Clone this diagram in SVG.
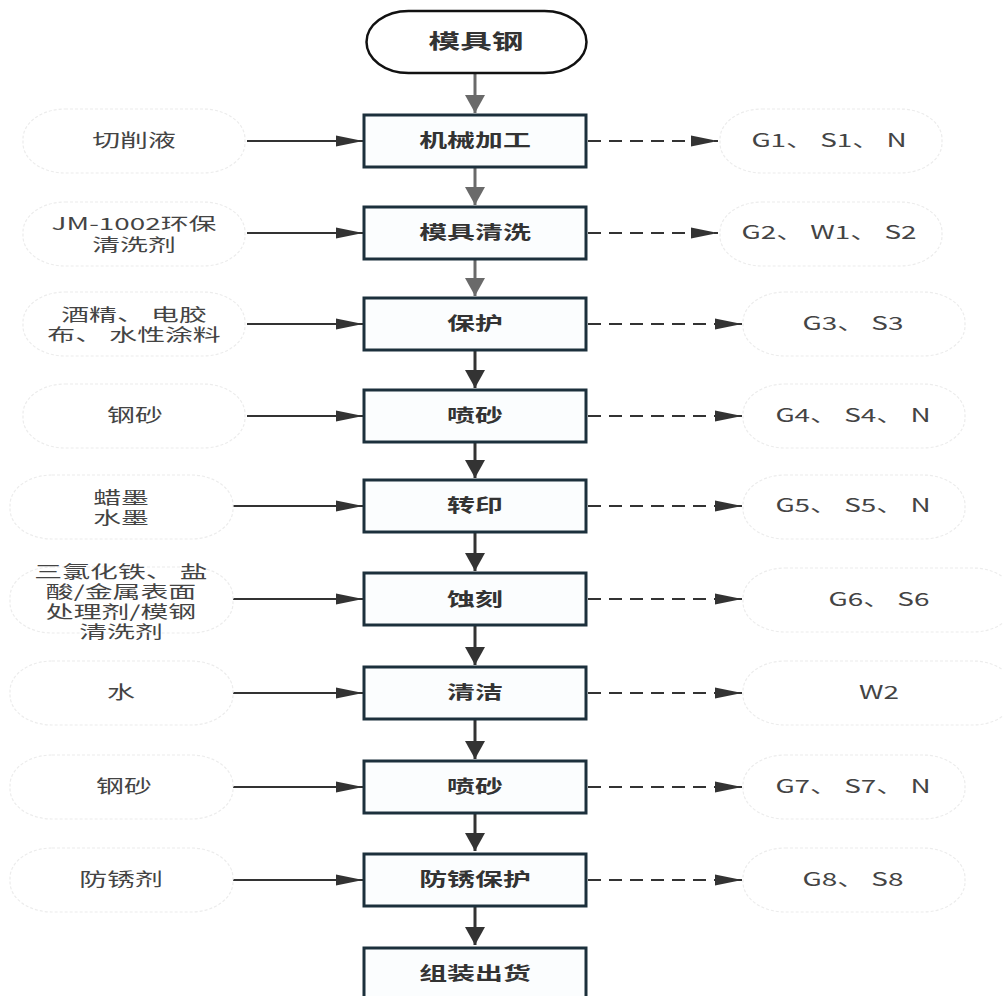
<svg xmlns="http://www.w3.org/2000/svg" width="1003" height="996" viewBox="0 0 1003 996">
<style>
.pt{font-family:"Noto Sans CJK SC","Liberation Sans",sans-serif;font-size:18px;font-weight:bold;fill:#333;text-anchor:middle}
.tt{font-family:"Noto Sans CJK SC","Liberation Sans",sans-serif;font-size:20px;font-weight:bold;fill:#333;text-anchor:middle}
.st{font-family:"Noto Sans CJK SC","Liberation Sans",sans-serif;font-size:18px;fill:#444;text-anchor:middle}
.st2{font-family:"Noto Sans CJK SC","Liberation Sans",sans-serif;font-size:17px;fill:#444;text-anchor:middle}
.box{fill:#fbfdfe;stroke:#1c303c;stroke-width:3}
.side{fill:#fff;stroke:#ececec;stroke-width:1.2;stroke-dasharray:3 2}
.vg{stroke:#6a6a6a;stroke-width:3;fill:none}
.vd{stroke:#333;stroke-width:3;fill:none}
.hin{stroke:#333;stroke-width:2;fill:none}
.hout{stroke:#333;stroke-width:2;fill:none;stroke-dasharray:13 8}
</style>
<defs>
<marker id="vhg" markerUnits="userSpaceOnUse" markerWidth="18" markerHeight="20" refX="18" refY="10" orient="auto"><path d="M0,0 L18,10 L0,20 z" fill="#6a6a6a"/></marker>
<marker id="vhd" markerUnits="userSpaceOnUse" markerWidth="18" markerHeight="20" refX="18" refY="10" orient="auto"><path d="M0,0 L18,10 L0,20 z" fill="#333"/></marker>
<marker id="hh" markerUnits="userSpaceOnUse" markerWidth="27" markerHeight="12" refX="27" refY="6" orient="auto"><path d="M0,0.5 L27,6 L0,11.5 z" fill="#333"/></marker>
</defs>
<rect width="1003" height="996" fill="#fff"/>

<g id="connectors">
<path class="vg" d="M475,73 V113" marker-end="url(#vhg)"/>
<path class="vg" d="M475,168 V205" marker-end="url(#vhg)"/>
<path class="vg" d="M475,260 V296" marker-end="url(#vhg)"/>
<path class="vd" d="M475,351 V388" marker-end="url(#vhd)"/>
<path class="vd" d="M475,443 V478" marker-end="url(#vhd)"/>
<path class="vd" d="M475,533 V571" marker-end="url(#vhd)"/>
<path class="vd" d="M475,626 V665" marker-end="url(#vhd)"/>
<path class="vd" d="M475,720 V759" marker-end="url(#vhd)"/>
<path class="vd" d="M475,814 V851" marker-end="url(#vhd)"/>
<path class="vd" d="M475,907 V945" marker-end="url(#vhd)"/>

<path class="hin" d="M247,141 H363" marker-end="url(#hh)"/>
<path class="hin" d="M247,233 H363" marker-end="url(#hh)"/>
<path class="hin" d="M247,324 H363" marker-end="url(#hh)"/>
<path class="hin" d="M247,416 H363" marker-end="url(#hh)"/>
<path class="hin" d="M233,506 H363" marker-end="url(#hh)"/>
<path class="hin" d="M233,599 H363" marker-end="url(#hh)"/>
<path class="hin" d="M233,693 H363" marker-end="url(#hh)"/>
<path class="hin" d="M233,787 H363" marker-end="url(#hh)"/>
<path class="hin" d="M233,880 H363" marker-end="url(#hh)"/>

<path class="hout" d="M588,141 H718" marker-end="url(#hh)"/>
<path class="hout" d="M588,233 H718" marker-end="url(#hh)"/>
<path class="hout" d="M588,324 H742" marker-end="url(#hh)"/>
<path class="hout" d="M588,416 H742" marker-end="url(#hh)"/>
<path class="hout" d="M588,506 H742" marker-end="url(#hh)"/>
<path class="hout" d="M588,599 H742" marker-end="url(#hh)"/>
<path class="hout" d="M588,693 H742" marker-end="url(#hh)"/>
<path class="hout" d="M588,787 H742" marker-end="url(#hh)"/>
<path class="hout" d="M588,880 H742" marker-end="url(#hh)"/>
</g>

<g id="start">
<rect x="366.5" y="11" width="220" height="62" rx="42" ry="31" fill="#fff" stroke="#111" stroke-width="2.5"/>
<g transform="translate(476,0) scale(1.58,1)"><text class="tt" x="0" y="49">模具钢</text></g>
</g>

<g id="p1"><rect class="box" x="364" y="115" width="222" height="52"/><g transform="translate(475,0) scale(1.55,1)"><text class="pt" x="0" y="147.5">机械加工</text></g></g>
<g id="p2"><rect class="box" x="364" y="207" width="222" height="52"/><g transform="translate(475,0) scale(1.55,1)"><text class="pt" x="0" y="239.5">模具清洗</text></g></g>
<g id="p3"><rect class="box" x="364" y="298" width="222" height="52"/><g transform="translate(475,0) scale(1.55,1)"><text class="pt" x="0" y="330.5">保护</text></g></g>
<g id="p4"><rect class="box" x="364" y="390" width="222" height="52"/><g transform="translate(475,0) scale(1.55,1)"><text class="pt" x="0" y="422.5">喷砂</text></g></g>
<g id="p5"><rect class="box" x="364" y="480" width="222" height="52"/><g transform="translate(475,0) scale(1.55,1)"><text class="pt" x="0" y="512.5">转印</text></g></g>
<g id="p6"><rect class="box" x="364" y="573" width="222" height="52"/><g transform="translate(475,0) scale(1.55,1)"><text class="pt" x="0" y="605.5">蚀刻</text></g></g>
<g id="p7"><rect class="box" x="364" y="667" width="222" height="52"/><g transform="translate(475,0) scale(1.55,1)"><text class="pt" x="0" y="699.5">清洁</text></g></g>
<g id="p8"><rect class="box" x="364" y="761" width="222" height="52"/><g transform="translate(475,0) scale(1.55,1)"><text class="pt" x="0" y="793.5">喷砂</text></g></g>
<g id="p9"><rect class="box" x="364" y="854" width="222" height="52"/><g transform="translate(475,0) scale(1.55,1)"><text class="pt" x="0" y="886.5">防锈保护</text></g></g>
<g id="p10"><rect class="box" x="364" y="948" width="222" height="60"/><g transform="translate(475,0) scale(1.55,1)"><text class="pt" x="0" y="980">组装出货</text></g></g>

<g id="in1"><rect class="side" x="23" y="109" width="222" height="64" rx="42" ry="30"/><g transform="translate(134,0) scale(1.55,1)"><text class="st" x="0" y="147.5">切削液</text></g></g>
<g id="in2"><rect class="side" x="23" y="202" width="222" height="64" rx="42" ry="30"/><g transform="translate(134,0) scale(1.64,1)"><text class="st2"><tspan x="0" y="230">JM-1002环保</tspan><tspan x="0" y="251">清洗剂</tspan></text></g></g>
<g id="in3"><rect class="side" x="23" y="292" width="222" height="64" rx="42" ry="30"/><g transform="translate(134,0) scale(1.64,1)"><text class="st2"><tspan x="0" y="321">酒精、 电胶</tspan><tspan x="0" y="341">布、 水性涂料</tspan></text></g></g>
<g id="in4"><rect class="side" x="23" y="384" width="222" height="64" rx="42" ry="30"/><g transform="translate(135,0) scale(1.55,1)"><text class="st" x="0" y="422.5">钢砂</text></g></g>
<g id="in5"><rect class="side" x="10" y="475" width="223" height="64" rx="42" ry="30"/><g transform="translate(121,0) scale(1.64,1)"><text class="st2"><tspan x="0" y="504">蜡墨</tspan><tspan x="0" y="524">水墨</tspan></text></g></g>
<g id="in6"><rect class="side" x="10" y="567" width="223" height="66" rx="42" ry="30"/><g transform="translate(121,0) scale(1.64,1)"><text class="st2"><tspan x="0" y="578">三氯化铁、 盐</tspan><tspan x="0" y="598">酸/金属表面</tspan><tspan x="0" y="618">处理剂/模钢</tspan><tspan x="0" y="638">清洗剂</tspan></text></g></g>
<g id="in7"><rect class="side" x="10" y="661" width="223" height="64" rx="42" ry="30"/><g transform="translate(121,0) scale(1.55,1)"><text class="st" x="0" y="699.5">水</text></g></g>
<g id="in8"><rect class="side" x="10" y="755" width="223" height="64" rx="42" ry="30"/><g transform="translate(124,0) scale(1.55,1)"><text class="st" x="0" y="793.5">钢砂</text></g></g>
<g id="in9"><rect class="side" x="10" y="848" width="223" height="64" rx="42" ry="30"/><g transform="translate(121,0) scale(1.55,1)"><text class="st" x="0" y="886.5">防锈剂</text></g></g>

<g id="out1"><rect class="side" x="720" y="109" width="222" height="64" rx="42" ry="30"/><g transform="translate(829,0) scale(1.55,1)"><text class="st" x="0" y="147.5">G1、 S1、 N</text></g></g>
<g id="out2"><rect class="side" x="720" y="202" width="222" height="64" rx="42" ry="30"/><g transform="translate(829,0) scale(1.55,1)"><text class="st" x="0" y="239.5">G2、 W1、 S2</text></g></g>
<g id="out3"><rect class="side" x="743" y="292" width="222" height="64" rx="42" ry="30"/><g transform="translate(853,0) scale(1.55,1)"><text class="st" x="0" y="330.5">G3、 S3</text></g></g>
<g id="out4"><rect class="side" x="743" y="384" width="222" height="64" rx="42" ry="30"/><g transform="translate(853,0) scale(1.55,1)"><text class="st" x="0" y="422.5">G4、 S4、 N</text></g></g>
<g id="out5"><rect class="side" x="743" y="475" width="222" height="64" rx="42" ry="30"/><g transform="translate(853,0) scale(1.55,1)"><text class="st" x="0" y="512.5">G5、 S5、 N</text></g></g>
<g id="out6"><rect class="side" x="743" y="568" width="272" height="64" rx="42" ry="30"/><g transform="translate(879,0) scale(1.55,1)"><text class="st" x="0" y="605.5">G6、 S6</text></g></g>
<g id="out7"><rect class="side" x="743" y="661" width="272" height="64" rx="42" ry="30"/><g transform="translate(879,0) scale(1.55,1)"><text class="st" x="0" y="699.5">W2</text></g></g>
<g id="out8"><rect class="side" x="743" y="755" width="222" height="64" rx="42" ry="30"/><g transform="translate(853,0) scale(1.55,1)"><text class="st" x="0" y="793.5">G7、 S7、 N</text></g></g>
<g id="out9"><rect class="side" x="743" y="848" width="222" height="64" rx="42" ry="30"/><g transform="translate(853,0) scale(1.55,1)"><text class="st" x="0" y="886.5">G8、 S8</text></g></g>
</svg>
